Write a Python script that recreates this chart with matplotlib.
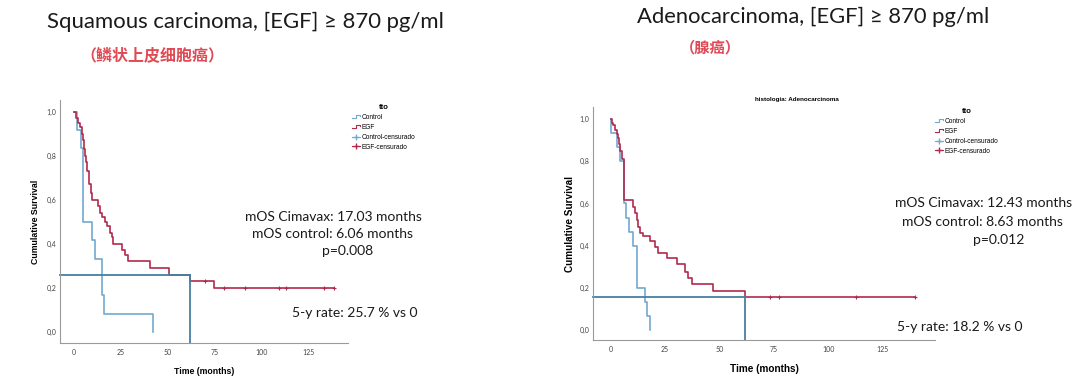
import matplotlib
matplotlib.use("Agg")
import matplotlib.pyplot as plt
from matplotlib.lines import Line2D
from matplotlib.legend_handler import HandlerLine2D

plt.rcParams['font.family'] = ['Lato', 'DejaVu Sans']

# squamous carcinoma panel
sq_egf_t = [0, 1.2, 2.3, 3.2, 4.0, 4.6, 5.3, 5.9, 6.6, 7.1, 7.7, 8.2, 8.9, 9.4,
            13.0, 13.9, 14.8, 16.6, 17.4, 19.2, 20.1, 21.0, 25.5, 27.2, 29.0,
            40.6, 50.4, 61.6, 74.4, 138.5]
sq_egf_s = [1.0, 0.97, 0.95, 0.93, 0.90, 0.87, 0.83, 0.80, 0.77, 0.73, 0.70, 0.67, 0.63, 0.60,
            0.57, 0.54, 0.52, 0.50, 0.48, 0.45, 0.43, 0.40, 0.37, 0.35, 0.32,
            0.29, 0.26, 0.23, 0.20, 0.20]
sq_egf_cens_t = [70, 79.7, 91.3, 109, 112.7, 133, 138.5]
sq_egf_cens_s = [0.23, 0.20, 0.20, 0.20, 0.20, 0.20, 0.20]
sq_ctl_t = [0, 1.8, 3.7, 4.8, 9.4, 11.2, 15.0, 16.0, 42.0]
sq_ctl_s = [1.0, 0.917, 0.833, 0.5, 0.417, 0.333, 0.167, 0.083, 0.0]
sq_5y = 0.257
sq_5y_t = 61.6

# adenocarcinoma panel
ad_egf_t = [0, 0.6, 1.2, 2.0, 2.9, 3.5, 3.9, 4.5, 5.0, 6.2, 10.1, 11.2, 12.0, 12.7,
            13.5, 15.0, 18.1, 20.4, 21.9, 25.8, 30.4, 34.2, 35.7, 37.3, 46.9, 61.8, 140]
ad_egf_s = [1.0, 0.98, 0.97, 0.95, 0.93, 0.91, 0.88, 0.85, 0.81, 0.616, 0.585, 0.553, 0.52, 0.49,
            0.458, 0.447, 0.42, 0.395, 0.367, 0.34, 0.313, 0.276, 0.245, 0.218, 0.186, 0.158, 0.158]
ad_egf_cens_t = [73, 77.2, 112.5, 140]
ad_egf_cens_s = [0.158, 0.158, 0.158, 0.158]
ad_ctl_t = [0, 0.3, 3.1, 4.5, 6.3, 7.1, 8.6, 10.4, 12.0, 15.8, 16.9, 18.1]
ad_ctl_s = [1.0, 0.933, 0.867, 0.8, 0.6, 0.533, 0.467, 0.4, 0.2, 0.133, 0.067, 0.0]
ad_5y = 0.158
ad_5y_t = 61.8

yticks = [0.0, 0.2, 0.4, 0.6, 0.8, 1.0]
ytick_labels = ["0,0", "0,2", "0,4", "0,6", "0,8", "1,0"]
xticks = [0, 25, 50, 75, 100, 125]

c_ctl = '#74a9cf'
c_egf = '#b02a4e'
c_ref = '#45809f'

W, H = 1079, 383
fig = plt.figure(figsize=(W / 100, H / 100), dpi=100)


class StepHandler(HandlerLine2D):
    def create_artists(self, legend, orig_handle, xdescent, ydescent, width, height, fontsize, trans):
        xs = [0, width * 0.45, width * 0.45, width * 0.9, width * 0.9]
        y0, y1 = height * 0.15, height * 0.85
        ys = [y0, y0, y1, y1, y0 + (y1 - y0) * 0.6]
        ln = Line2D(xs, ys, color=orig_handle.get_color(), lw=0.8, transform=trans)
        return [ln]


def km_panel(rect, xlim, ylim, egf_t, egf_s, ctl_t, ctl_s, cens_t, cens_s, r5, t5,
             lab_fs, ypad, leg_anchor):
    ax = fig.add_axes(rect)
    ax.step(ctl_t, ctl_s, where='post', color=c_ctl, lw=1.2)
    ax.step(egf_t, egf_s, where='post', color=c_egf, lw=1.2)
    ax.plot(cens_t, cens_s, '+', color=c_egf, ms=3.5, mew=0.8)
    ax.plot([xlim[0], t5], [r5, r5], color=c_ref, lw=1.3, clip_on=False)
    ax.plot([t5, t5], [ylim[0], r5], color=c_ref, lw=1.3, clip_on=False)
    ax.set_xlim(xlim)
    ax.set_ylim(ylim)
    ax.set_xticks(xticks)
    ax.set_yticks(yticks)
    ax.set_yticklabels(ytick_labels)
    ax.tick_params(length=0, labelsize=5, labelcolor='#444444')
    ax.tick_params(axis='y', pad=2.5)
    ax.tick_params(axis='x', pad=4)
    for s in ['top', 'right']:
        ax.spines[s].set_visible(False)
    for s in ['left', 'bottom']:
        ax.spines[s].set_color('#9a9a9a')
        ax.spines[s].set_linewidth(0.8)
    ax.set_xlabel("Time (months)", fontsize=lab_fs, fontweight='bold',
                  family='Liberation Sans', labelpad=8)
    ax.set_ylabel("Cumulative Survival", fontsize=lab_fs, fontweight='bold',
                  family='Liberation Sans', labelpad=ypad)
    handles = [Line2D([], [], color=c_ctl), Line2D([], [], color=c_egf),
               Line2D([], [], color=c_ctl, marker='+', ms=4, lw=0.8),
               Line2D([], [], color=c_egf, marker='+', ms=4, lw=0.8)]
    labels = ["Control", "EGF", "Control-censurado", "EGF-censurado"]
    leg = ax.legend(handles, labels, title="tto", loc='upper left',
                    bbox_to_anchor=leg_anchor, bbox_transform=fig.transFigure,
                    frameon=False, handlelength=1.3, handletextpad=0.2,
                    labelspacing=0.45, borderpad=0, borderaxespad=0,
                    handler_map={handles[0]: StepHandler(), handles[1]: StepHandler()},
                    prop={'family': 'Liberation Sans', 'size': 4.7})
    leg.get_title().set_fontsize(5.5)
    leg.get_title().set_fontweight('bold')
    leg.get_title().set_family('Liberation Sans')
    return ax


km_panel([60 / W, 40 / H, 288 / W, 243 / H], (-7.5, 146), (-0.05, 1.053),
         sq_egf_t, sq_egf_s, sq_ctl_t, sq_ctl_s, sq_egf_cens_t, sq_egf_cens_s,
         sq_5y, sq_5y_t, 6.3, 5, (352 / W, 1 - 104 / H))
km_panel([593 / W, 43 / H, 342 / W, 233 / H], (-8.1, 149), (-0.047, 1.057),
         ad_egf_t, ad_egf_s, ad_ctl_t, ad_ctl_s, ad_egf_cens_t, ad_egf_cens_s,
         ad_5y, ad_5y_t, 7.2, 3, (935 / W, 1 - 108 / H))

fig.text(755 / W, 1 - 100 / H, "histologia: Adenocarcinoma", fontsize=4.5,
         fontweight='bold', family='Liberation Sans', va='center')


def ftext(x, y, s, **kw):
    fig.text(x / W, 1 - y / H, s, va='center', color='#1a1a1a', **kw)


# headings
ftext(47, 22, "Squamous carcinoma, [EGF] ≥ 870 pg/ml", fontsize=15.9)
ftext(637, 17, "Adenocarcinoma, [EGF] ≥ 870 pg/ml", fontsize=15.8)
cjk = ['Noto Sans CJK SC', 'DejaVu Sans']
fig.text(80 / W, 1 - 55 / H, "（鳞状上皮细胞癌）", fontsize=11.5, fontweight='bold',
         color='#e04a55', family=cjk, va='center')
fig.text(680 / W, 1 - 47 / H, "（腺癌）", fontsize=11, fontweight='bold',
         color='#e04a55', family=cjk, va='center')

# stats
ftext(245, 217, "mOS Cimavax: 17.03 months", fontsize=10)
ftext(252, 234, "mOS control: 6.06 months", fontsize=10)
ftext(322, 251, "p=0.008", fontsize=10)
ftext(292, 313, "5-y rate: 25.7 % vs 0", fontsize=10)

ftext(895, 203, "mOS Cimavax: 12.43 months", fontsize=10)
ftext(902, 222, "mOS control: 8.63 months", fontsize=10)
ftext(973, 240, "p=0.012", fontsize=10)
ftext(897, 327, "5-y rate: 18.2 % vs 0", fontsize=10)

fig.savefig("out.png", dpi=100)
